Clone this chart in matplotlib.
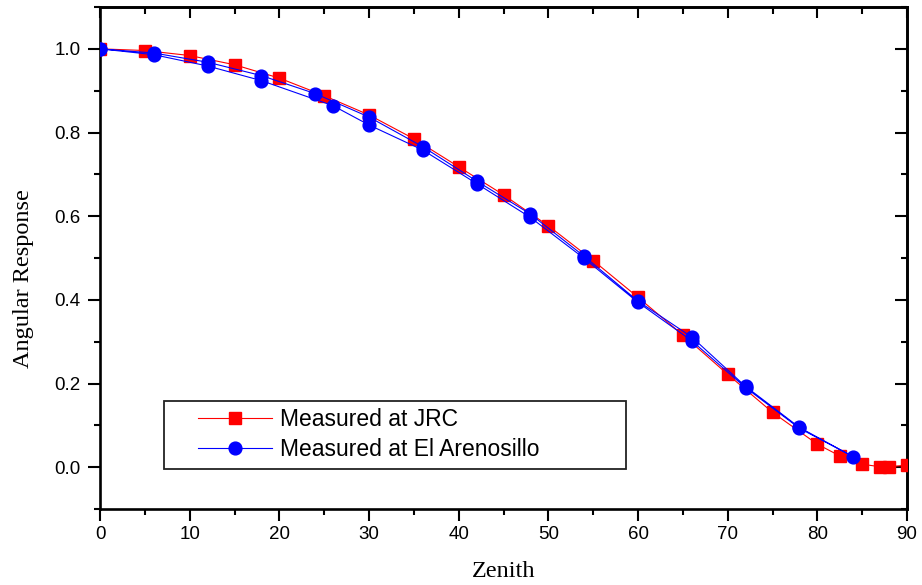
"""Angular response of the radiometer: JRC vs El Arenosillo measurements."""

import matplotlib

matplotlib.use("Agg")
import matplotlib.pyplot as plt
from matplotlib.patches import Rectangle

# Measured at JRC
jrc_zenith = [0, 5, 10, 15, 20, 25, 30, 35, 40, 45, 50, 55, 60, 65, 70, 75, 80, 82.5, 85, 87, 88, 90]
jrc_response = [1.000, 0.996, 0.984, 0.962, 0.930, 0.888, 0.842, 0.785, 0.718, 0.651, 0.577,
                0.494, 0.406, 0.316, 0.222, 0.131, 0.055, 0.027, 0.007, 0.001, 0.001, 0.005]

# Measured at El Arenosillo (scan out to 84 deg and back)
are_zenith = [0, 6, 12, 18, 24, 30, 36, 42, 48, 54, 60, 66, 72, 78, 84,
              78, 72, 66, 60, 54, 48, 42, 36, 30, 26, 18, 12, 6, 0]
are_response = [1.000, 0.990, 0.968, 0.936, 0.893, 0.837, 0.766, 0.684, 0.605, 0.504,
                0.397, 0.311, 0.193, 0.095, 0.025,
                0.093, 0.190, 0.302, 0.394, 0.499, 0.597, 0.678, 0.758, 0.818,
                0.864, 0.924, 0.959, 0.986, 1.000]

x_major = list(range(0, 91, 10))
x_minor = list(range(5, 90, 10))
y_major = [0.0, 0.2, 0.4, 0.6, 0.8, 1.0]
y_minor = [-0.1, 0.1, 0.3, 0.5, 0.7, 0.9, 1.1]

SANS = "Liberation Sans"
SERIF = "Liberation Serif"

fig = plt.figure(figsize=(9.22, 5.85), dpi=100)
ax = fig.add_axes([100 / 922, 1 - 509 / 585, 807 / 922, 502 / 585])

ax.plot(jrc_zenith, jrc_response, color="#ff0000", lw=0.8, marker="s", ms=8.6,
        mec="#ff0000", mfc="#ff0000", label="Measured at JRC", zorder=3)
ax.plot(are_zenith, are_response, color="#0000ff", lw=0.8, marker="o", ms=9.2,
        mec="#0000ff", mfc="#0000ff", label="Measured at El Arenosillo", zorder=4)

ax.set_xlim(0, 90)
ax.set_ylim(-0.1, 1.1)
ax.set_xticks(x_major)
ax.set_xticks(x_minor, minor=True)
ax.set_yticks(y_major)
ax.set_yticks(y_minor, minor=True)
ax.set_yticklabels([f"{v:.1f}" for v in y_major])

for s in ax.spines.values():
    s.set_linewidth(1.9)

ax.tick_params(which="major", direction="out", length=8.5, width=1.5, labelsize=13.5, pad=4)
ax.tick_params(which="minor", direction="out", length=4.3, width=1.5)
ax.tick_params(axis="y", which="major", pad=5.5)
for lab in ax.get_xticklabels() + ax.get_yticklabels():
    lab.set_fontfamily(SANS)

# inward ticks on top and right frame
top = ax.secondary_xaxis("top")
top.set_xticks(x_major)
top.set_xticks(x_minor, minor=True)
top.tick_params(which="major", direction="in", length=8, width=1.5, labeltop=False)
top.tick_params(which="minor", direction="in", length=5, width=1.5)
top.spines["top"].set_linewidth(1.9)

right = ax.secondary_yaxis("right")
right.set_yticks(y_major)
right.set_yticks(y_minor, minor=True)
right.tick_params(which="major", direction="in", length=8.5, width=1.5, labelright=False)
right.tick_params(which="minor", direction="in", length=4.3, width=1.5)
right.spines["right"].set_linewidth(1.9)

ax.set_xlabel("Zenith", fontfamily=SERIF, fontsize=17.5)
ax.xaxis.set_label_coords(0.5, -0.103)
ax.set_ylabel("Angular Response", fontfamily=SERIF, fontsize=17.5)
ax.yaxis.set_label_coords(-0.082, 0.46)

# legend: text/handles without frame, plus a plain rectangular box
ax.add_patch(Rectangle((64 / 807, 40 / 502), 462 / 807, 68 / 502, transform=ax.transAxes,
                       fill=False, edgecolor="#222222", lw=1.3, zorder=5))
leg = ax.legend(loc="center left", bbox_to_anchor=(98 / 807, 74.5 / 502), frameon=False,
                borderpad=0, borderaxespad=0, handlelength=3.25, handletextpad=0.35,
                labelspacing=0.3, numpoints=1, prop={"family": SANS, "size": 16.5})
for line in leg.get_lines():
    line.set_linewidth(0.8)

fig.savefig("out.png", dpi=100)
